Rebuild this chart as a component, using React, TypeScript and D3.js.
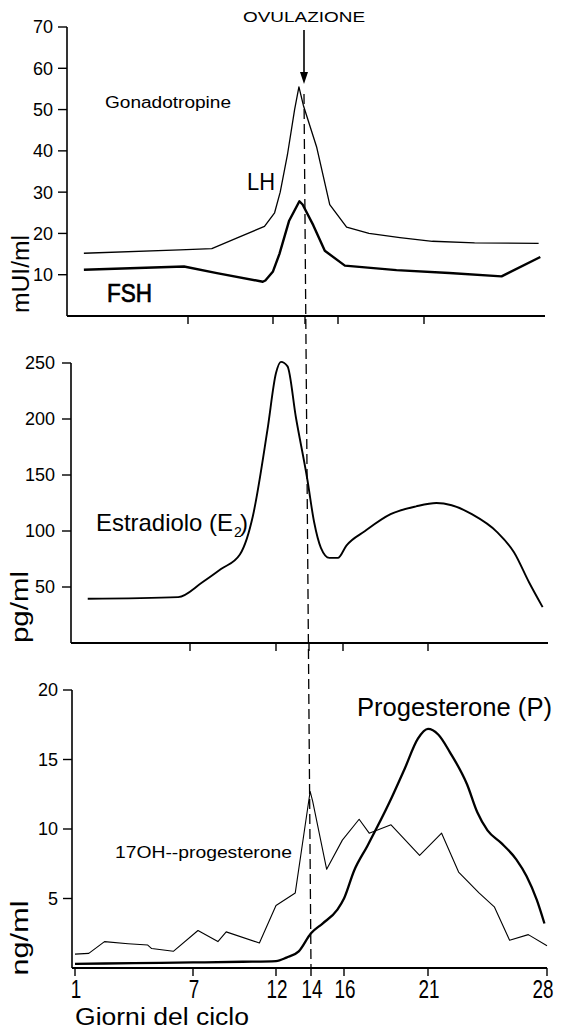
import React from 'react';
import * as d3 from 'd3';

type P = [number, number];

const dayTicks = [1, 7, 12, 14, 16, 21, 28];
const innerDayTicks = [7, 12, 14, 16, 21];
const ovulationDay = 14;

const gonadTicks = [10, 20, 30, 40, 50, 60, 70];
const estradiolTicks = [50, 100, 150, 200, 250];
const progTicks = [5, 10, 15, 20];

const lhSeries: P[] = [
  [1.75, 15.2], [6.6, 16.0], [8.4, 16.3], [10.0, 19.1], [11.5, 21.7], [12.1, 25],
  [12.45, 30], [12.9, 39], [13.35, 50], [13.62, 55.5], [13.9, 51], [14.7, 41],
  [15.5, 27], [16.5, 21.5], [17.8, 20], [19.6, 19], [21.5, 18.1], [24, 17.7], [27.8, 17.6],
];

const fshSeries: P[] = [
  [1.75, 11.2], [6.8, 12], [8.7, 10.4], [11.4, 8.3], [11.55, 8.6], [12.0, 10.8],
  [12.4, 15], [13.0, 23], [13.65, 27.8], [13.85, 27], [14.5, 22], [15.2, 15.8],
  [16.4, 12.2], [19.4, 11.1], [22.5, 10.4], [25.6, 9.6], [27.9, 14.3],
];

const estradiolSeries: P[] = [
  [1.8, 39.5], [6.4, 41], [7.7, 54], [8.8, 66], [9.9, 79], [10.3, 93], [10.65, 113],
  [11.5, 190], [12, 241], [12.3, 251], [12.7, 247], [13.2, 202], [13.9, 146],
  [14.3, 108], [14.7, 85], [15.2, 76], [15.7, 76], [16.2, 87], [17.3, 100],
  [18.8, 115], [20.3, 122], [21.5, 125], [22.4, 123], [23.6, 115], [25.1, 99],
  [26.1, 81], [27.0, 54], [27.8, 32],
];

const progesteroneSeries: P[] = [
  [1, 0.3], [4, 0.35], [7, 0.4], [10, 0.45], [12, 0.5], [12.6, 0.75], [13.3, 1.2],
  [14, 2.5], [14.7, 3.2], [15.6, 4.2], [16, 5], [16.6, 7.0], [17.4, 8.8],
  [18.7, 11.9], [19.6, 14.3], [20.4, 16.5], [21, 17.2], [21.6, 16.8], [22.3, 15.5],
  [23.3, 13.2], [23.9, 11.2], [24.5, 9.9], [25.3, 9.0], [26.2, 7.8], [26.8, 6.6],
  [27.4, 4.9], [27.85, 3.2],
];

const ohProgSeries: P[] = [
  [1, 1.0], [1.7, 1.05], [2.5, 1.9], [3.7, 1.75], [4.7, 1.65], [4.9, 1.4], [6.0, 1.2],
  [7.3, 2.7], [8.5, 1.9], [9.0, 2.6], [11.0, 1.8], [12, 4.5], [13.1, 5.4],
  [13.95, 12.7], [14.1, 12.0], [14.95, 7.1], [15.9, 9.2], [16.9, 10.7], [17.5, 9.7],
  [18.8, 10.3], [20.5, 8.1], [21.8, 9.7], [22.8, 6.9], [24.0, 5.4], [24.9, 4.4],
  [25.8, 2.0], [26.9, 2.4], [28, 1.6],
];

const FONT = "'Liberation Sans', Arial, Helvetica, sans-serif";

function YAxis({ scale, ticks, x, labelGap, tickLen }: any) {
  const [d0, d1] = scale.domain();
  return (
    <g>
      <line x1={x} x2={x} y1={scale(d1)} y2={scale(d0)} stroke="#000" strokeWidth={1.6} />
      {ticks.map((t: number) => (
        <g key={t}>
          <line x1={x - tickLen} x2={x} y1={scale(t)} y2={scale(t)} stroke="#000" strokeWidth={1.4} />
          <text x={x - labelGap} y={scale(t)} dy="0.36em" textAnchor="end" fontSize={18} fill="#000">
            {t}
          </text>
        </g>
      ))}
    </g>
  );
}

export default function App() {
  const W = 563;
  const H = 1031;

  const xTop = d3.scaleLinear().domain(dayTicks).range([69, 188, 273, 305, 338, 424, 542]);
  const xMid = d3.scaleLinear().domain(dayTicks).range([72, 190, 276, 309, 343, 428, 546]);
  const xBot = d3.scaleLinear().domain(dayTicks).range([75, 193, 276, 311, 344, 428, 547]);

  const yTop = d3.scaleLinear().domain([0, 70]).range([316, 27]);
  const yMid = d3.scaleLinear().domain([0, 250]).range([643, 363]);
  const yBot = d3.scaleLinear().domain([0, 20]).range([968, 690]);

  const mk = (x: any, y: any, curve: any) =>
    d3.line<P>().x((d) => x(d[0])).y((d) => y(d[1])).curve(curve);

  const lhPath = mk(xTop, yTop, d3.curveLinear)(lhSeries) || '';
  const fshPath = mk(xTop, yTop, d3.curveLinear)(fshSeries) || '';
  const e2Path = mk(xMid, yMid, d3.curveMonotoneX)(estradiolSeries) || '';
  const pPath = mk(xBot, yBot, d3.curveMonotoneX)(progesteroneSeries) || '';
  const ohPath = mk(xBot, yBot, d3.curveLinear)(ohProgSeries) || '';

  const ovTopX = xTop(ovulationDay) - 1;
  const ovBotX = xBot(ovulationDay);

  return (
    <div style={{ position: 'absolute', left: 0, top: 0 }}>
      <svg width={W} height={H} style={{ display: 'block', background: '#fff' }} fontFamily={FONT}>
        <rect x={0} y={0} width={W} height={H} fill="#fff" />

        {/* ---------- Top panel: gonadotropins ---------- */}
        <YAxis scale={yTop} ticks={gonadTicks} x={67} labelGap={14} tickLen={9} />
        <line x1={67} x2={545} y1={yTop(0)} y2={yTop(0)} stroke="#000" strokeWidth={2} />
        {innerDayTicks.map((d) => (
          <line key={d} x1={xTop(d)} x2={xTop(d)} y1={yTop(0)} y2={yTop(0) + 8} stroke="#000" strokeWidth={1.4} />
        ))}
        <path d={lhPath} fill="none" stroke="#000" strokeWidth={1.3} strokeLinejoin="round" />
        <path d={fshPath} fill="none" stroke="#000" strokeWidth={2.4} strokeLinejoin="round" />
        <text x={105} y={108} fontSize={16} textLength={126} lengthAdjust="spacingAndGlyphs">Gonadotropine</text>
        <text x={247} y={190} fontSize={24} textLength={28} lengthAdjust="spacingAndGlyphs">LH</text>
        <text x={107} y={302} fontSize={25} stroke="#000" strokeWidth={0.7} textLength={45} lengthAdjust="spacingAndGlyphs">FSH</text>
        <text transform="translate(29,274) rotate(-90)" textAnchor="middle" fontSize={23} textLength={78} lengthAdjust="spacingAndGlyphs">mUI/ml</text>

        {/* Ovulation marker */}
        <text x={ovTopX} y={22} textAnchor="middle" fontSize={15} textLength={122} lengthAdjust="spacingAndGlyphs">OVULAZIONE</text>
        <line x1={ovTopX} x2={ovTopX} y1={30} y2={74} stroke="#000" strokeWidth={1.6} />
        <path d={`M${ovTopX - 4},72 L${ovTopX + 4},72 L${ovTopX},84 Z`} fill="#000" />
        <line x1={ovTopX} x2={ovBotX} y1={94} y2={yBot(0)} stroke="#000" strokeWidth={1.3} strokeDasharray="10,5" />

        {/* ---------- Middle panel: estradiol ---------- */}
        <YAxis scale={yMid} ticks={estradiolTicks} x={71} labelGap={16} tickLen={9} />
        <line x1={71} x2={548} y1={yMid(0)} y2={yMid(0)} stroke="#000" strokeWidth={2} />
        {innerDayTicks.map((d) => (
          <line key={d} x1={xMid(d)} x2={xMid(d)} y1={yMid(0)} y2={yMid(0) + 8} stroke="#000" strokeWidth={1.4} />
        ))}
        <path d={e2Path} fill="none" stroke="#000" strokeWidth={1.9} strokeLinejoin="round" />
        <text x={96} y={531} fontSize={24} textLength={137} lengthAdjust="spacingAndGlyphs">Estradiolo (E</text>
        <text x={234} y={537} fontSize={14}>2</text>
        <text x={240} y={531} fontSize={24}>)</text>
        <text transform="translate(28,607) rotate(-90)" textAnchor="middle" fontSize={23} textLength={72} lengthAdjust="spacingAndGlyphs">pg/ml</text>

        {/* ---------- Bottom panel: progesterone ---------- */}
        <YAxis scale={yBot} ticks={progTicks} x={72} labelGap={14} tickLen={9} />
        <line x1={72} x2={547} y1={yBot(0)} y2={yBot(0)} stroke="#000" strokeWidth={2} />
        {dayTicks.map((d) => (
          <g key={d}>
            <line x1={xBot(d)} x2={xBot(d)} y1={yBot(0)} y2={yBot(0) + 8} stroke="#000" strokeWidth={1.4} />
            <text x={Math.min(xBot(d) + 1, 543)} y={998} textAnchor="middle" fontSize={26}
              textLength={String(d).length * 10.5} lengthAdjust="spacingAndGlyphs">{d}</text>
          </g>
        ))}
        <path d={ohPath} fill="none" stroke="#000" strokeWidth={1.1} strokeLinejoin="round" />
        <path d={pPath} fill="none" stroke="#000" strokeWidth={2.3} strokeLinejoin="round" />
        <text x={357} y={716} fontSize={25} textLength={195} lengthAdjust="spacingAndGlyphs">Progesterone (P)</text>
        <text x={115} y={858} fontSize={16} textLength={177} lengthAdjust="spacingAndGlyphs">17OH--progesterone</text>
        <text transform="translate(28,938) rotate(-90)" textAnchor="middle" fontSize={23} textLength={75} lengthAdjust="spacingAndGlyphs">ng/ml</text>
        <text x={75} y={1025} fontSize={23} textLength={174} lengthAdjust="spacingAndGlyphs">Giorni del ciclo</text>
      </svg>
    </div>
  );
}
